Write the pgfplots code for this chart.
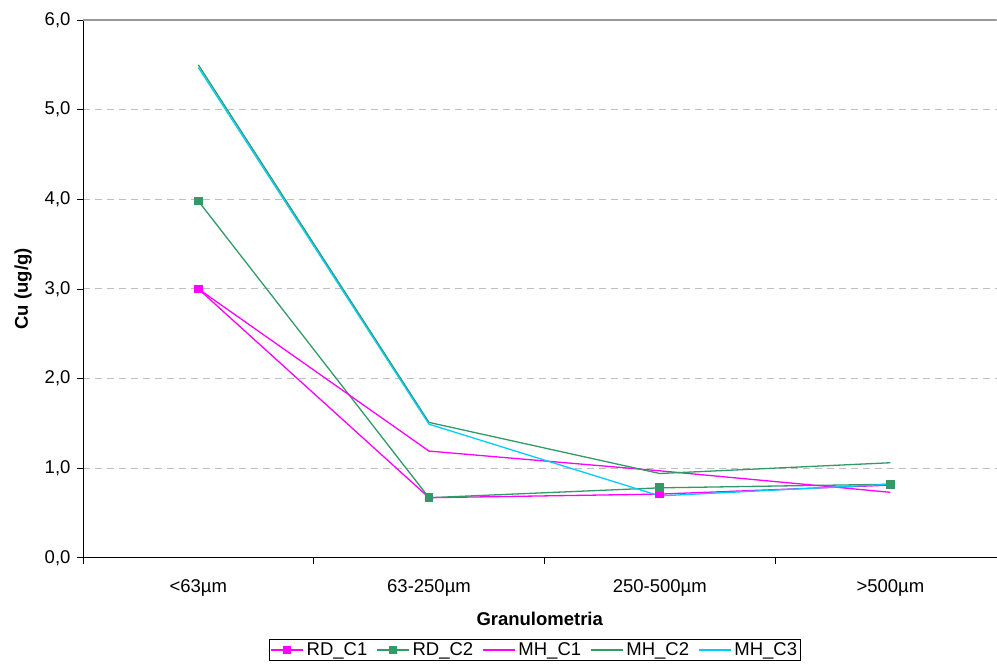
\documentclass[border=0pt]{standalone}
\usepackage{pgfplots}
\pgfplotsset{compat=1.18}
\usepackage{fontspec}
\setmainfont{Liberation Sans}
\definecolor{cmag}{HTML}{FF00FF}
\definecolor{cgreen}{HTML}{339966}
\definecolor{ccyan}{HTML}{00CCFF}
\begin{document}
\begin{tikzpicture}
\begin{axis}[
  name=ax,
  scale only axis,
  width=914pt, height=538pt,
  xmin=-0.5, xmax=3.46,
  ymin=0, ymax=6,
  axis x line=bottom, axis y line=left,
  axis line style={-, black, line width=0.9pt},
  xtick={0,1,2,3},
  xticklabels={<63µm,63-250µm,250-500µm,>500µm},
  minor xtick={-0.5,0.5,1.5,2.5},
  ytick={0,1,2,3,4,5,6},
  tick align=outside,
  major tick length=6pt, minor tick length=6pt,
  x tick style={draw=none},
  minor x tick style={draw=black, line width=0.6pt},
  y tick style={black, line width=0.6pt},
  /pgf/number format/fixed,
  /pgf/number format/fixed zerofill,
  /pgf/number format/precision=1,
  /pgf/number format/use comma,
  /pgf/number format/assume math mode=true,
  tick label style={font=\fontsize{18.5}{20}\selectfont},
  yticklabel style={xshift=-3pt},
  xticklabel style={yshift=-12pt},
  ymajorgrids=true,
  grid style={dash pattern=on 7pt off 5pt, gray!50, line width=0.9pt},
  xlabel={\textbf{Granulometria}},
  ylabel={\textbf{Cu (ug/g)}},
  label style={font=\fontsize{18.5}{20}\selectfont},
  xlabel style={yshift=-9pt},
  ylabel style={yshift=6pt},
  legend columns=5,
  legend style={at={(0.4945,-0.152)}, anchor=north,
    font=\fontsize{18.5}{20}\selectfont, inner sep=1pt,
    /tikz/every odd column/.append style={column sep=1pt},
    /tikz/every even column/.append style={column sep=7pt}},
  legend image code/.code={\draw[mark repeat=2, mark phase=2] plot coordinates {(0pt,0pt) (16pt,0pt) (32pt,0pt)};},
  legend cell align=left,
]
\addplot[cmag, line width=1.3pt, mark=square*, mark size=3.7pt] coordinates {(0,3.00) (1,0.67) (2,0.71) (3,0.81)};
\addplot[cgreen, line width=1.3pt, mark=square*, mark size=3.7pt] coordinates {(0,3.98) (1,0.67) (2,0.78) (3,0.82)};
\addplot[cmag, line width=1.3pt, mark=none] coordinates {(0,3.00) (1,1.19) (2,0.97) (3,0.73)};
\addplot[cgreen, line width=1.3pt, mark=none] coordinates {(0,5.50) (1,1.51) (2,0.94) (3,1.06)};
\addplot[ccyan, line width=1.3pt, mark=none] coordinates {(0,5.47) (1,1.49) (2,0.69) (3,0.82)};
\legend{RD\_C1, RD\_C2, MH\_C1, MH\_C2, MH\_C3}
\draw[gray!80, line width=1.2pt] (rel axis cs:0,1) -- (rel axis cs:1,1);
\end{axis}
\path ([xshift=-83pt,yshift=-109pt]ax.south west) rectangle ([yshift=20pt]ax.north east);
\end{tikzpicture}
\end{document}
